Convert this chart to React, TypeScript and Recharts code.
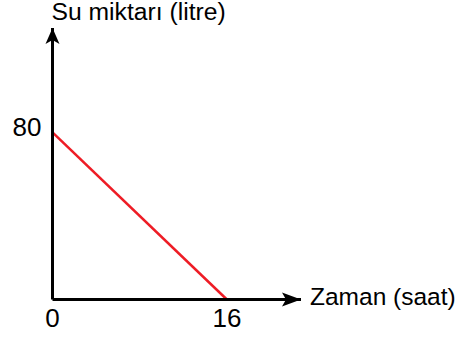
import { Label, Line, LineChart, ReferenceDot, XAxis, YAxis } from 'recharts';

const hours = [0, 16];
const water = [80, 0];
const xTicks = [0, 16];
const yTicks = [80];
const xTitle = 'Zaman (saat)';
const yTitle = 'Su miktarı (litre)';

const data = hours.map((h, i) => ({ hour: h, water: water[i] }));

const X_MAX = 22.8;
const Y_MAX = 130;
const FONT = '"Liberation Sans", Arial, sans-serif';

const UpArrow = ({ cx, cy }: any) => (
  <path d={`M${cx},${cy} L${cx + 7},${cy + 16} L${cx},${cy + 12} L${cx - 7},${cy + 16} Z`} fill="#000" />
);

const RightArrow = ({ cx, cy }: any) => (
  <path d={`M${cx},${cy} L${cx - 19},${cy - 7} L${cx - 15},${cy} L${cx - 19},${cy + 7} Z`} fill="#000" />
);

const YTick = ({ x, y, payload }: any) => (
  <text x={x} y={y} dx={-3} dy={3.5} textAnchor="end" fontSize={26} fontFamily={FONT} fill="#000">
    {payload.value}
  </text>
);

const XTick = ({ x, y, payload }: any) => (
  <text x={x} y={y} dy={19} textAnchor="middle" fontSize={26} fontFamily={FONT} fill="#000">
    {payload.value}
  </text>
);

export default function App() {
  return (
    <div style={{ width: 467, height: 340, background: '#fff' }}>
      <style>{'body{margin:0}'}</style>
      <LineChart width={467} height={340} data={data} margin={{ top: 28, right: 166, bottom: 0, left: 12.5 }}>
        <XAxis
          dataKey="hour"
          type="number"
          domain={[0, X_MAX]}
          ticks={xTicks}
          tickLine={false}
          height={40.5}
          axisLine={{ stroke: '#000', strokeWidth: 3 }}
          tick={<XTick />}
        >
          <Label
            content={({ viewBox }: any) => (
              <text x={viewBox.x + viewBox.width + 9} y={viewBox.y + 5} fontSize={24.5} fontFamily={FONT} fill="#000">
                {xTitle}
              </text>
            )}
          />
        </XAxis>
        <YAxis
          type="number"
          domain={[0, Y_MAX]}
          ticks={yTicks}
          tickLine={false}
          width={40}
          axisLine={{ stroke: '#000', strokeWidth: 3 }}
          tick={<YTick />}
        >
          <Label
            content={({ viewBox }: any) => (
              <text x={viewBox.x + viewBox.width - 1} y={viewBox.y - 8} fontSize={24.7} fontFamily={FONT} fill="#000">
                {yTitle}
              </text>
            )}
          />
        </YAxis>
        <Line
          type="linear"
          dataKey="water"
          stroke="#ee1c25"
          strokeWidth={2.5}
          dot={false}
          isAnimationActive={false}
        />
        <ReferenceDot x={0} y={Y_MAX} ifOverflow="visible" shape={<UpArrow />} />
        <ReferenceDot x={X_MAX} y={0} ifOverflow="visible" shape={<RightArrow />} />
      </LineChart>
    </div>
  );
}
